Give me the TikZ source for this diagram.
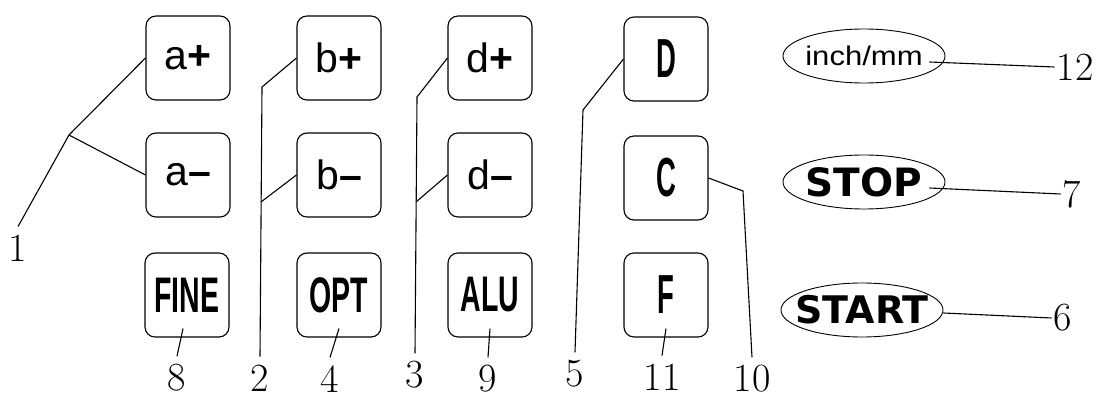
\documentclass[tikz,border=0pt]{standalone}
\usepackage{fontspec}
\usetikzlibrary{shapes.geometric}
\newfontfamily\keyfont{Liberation Sans}
\newfontfamily\ovalfont{DejaVu Sans}

\newcommand{\narrow}[1]{\scalebox{0.57}[1]{#1}}
\newcommand{\thin}[1]{\scalebox{0.5}[1]{#1}}

\begin{document}
\begin{tikzpicture}[x=1pt,y=-1pt,
    key/.style={draw,line width=1.1pt,rounded corners=10pt,minimum width=84pt,minimum height=84pt,inner sep=0pt,
        font=\keyfont\fontsize{41}{41}\selectfont},
    heavykey/.style={key,font=\keyfont\bfseries\fontsize{50}{50}\selectfont},
    letterkey/.style={key,font=\keyfont\bfseries\fontsize{55}{55}\selectfont},
    oval/.style={draw,ellipse,line width=0.9pt,minimum width=162pt,minimum height=54pt,inner xsep=-20pt,inner ysep=0pt},
    num/.style={inner xsep=2pt,inner ysep=8pt,font=\fontsize{40}{40}\selectfont},
    lead/.style={line width=1.1pt}]
    \useasboundingbox (0,0) rectangle (1104,398);

    % keys
    \node[key] (aplus) at (188,58) {a\textbf{+}};
    \node[key] (aminus) at (188,175) {a\textbf{–}};
    \node[heavykey] (fine) at (187,295) {\narrow{FINE}};
    \node[key] (bplus) at (339,58) {b\textbf{+}};
    \node[key] (bminus) at (339,175) {b\textbf{–}};
    \node[heavykey] (opt) at (339,295) {\narrow{OPT}};
    \node[key] (dplus) at (490,58) {d\textbf{+}};
    \node[key] (dminus) at (490,175) {d\textbf{–}};
    \node[heavykey] (alu) at (490,295) {\narrow{ALU}};
    \node[letterkey] (keyD) at (666,59) {\thin{D}};
    \node[letterkey] (keyC) at (666,178) {\thin{C}};
    \node[letterkey] (keyF) at (666,295) {\thin{F}};

    % ovals
    \node[oval,font=\keyfont\fontsize{27}{27}\selectfont] (inch) at (864,56) {\scalebox{1.15}[1]{inch/mm}};
    \node[oval,font=\ovalfont\bfseries\fontsize{39}{39}\selectfont] (stop) at (864,182) {STOP};
    \node[oval,font=\ovalfont\bfseries\fontsize{38}{38}\selectfont] (start) at (862,310) {START};

    % numbers
    \node[num] (l1) at (18,248) {1};
    \node[num] (l2) at (260,378) {2};
    \node[num] (l3) at (415,375) {3};
    \node[num] (l4) at (330,379) {4};
    \node[num] (l5) at (575,374) {5};
    \node[num] (l6) at (1063,318) {6};
    \node[num] (l7) at (1072,194) {7};
    \node[num] (l8) at (177,378) {8};
    \node[num] (l9) at (488,379) {9};
    \node[num] (l10) at (752,379) {10};
    \node[num] (l11) at (662,377) {11};
    \node[num] (l12) at (1075,67) {12};

    % leader bends
    \coordinate (j1) at (69,135);
    \coordinate (t2) at (262,87);
    \coordinate (m2) at (261,202);
    \coordinate (t3) at (417,97);
    \coordinate (m3) at (416,202);
    \coordinate (t5) at (583,110);
    \coordinate (t10) at (743,191);
    \coordinate (s8) at ([shift={(-4pt,9pt)}]fine.south);
    \coordinate (s4) at ([yshift=9pt]opt.south);
    \coordinate (s9) at ([yshift=9pt]alu.south);
    \coordinate (s11) at ([yshift=9pt]keyF.south);
    \coordinate (s12) at ([xshift=-16pt,yshift=-6pt]inch.east);
    \coordinate (s7) at ([xshift=-16pt,yshift=-6pt]stop.east);
    \coordinate (s6) at ([yshift=-3pt]start.east);

    % leaders
    \draw[lead] (l1.north) -- (j1) -- (aplus.west);
    \draw[lead] (j1) -- (aminus.west);
    \draw[lead] (l2.north) -- (t2) -- (bplus.west);
    \draw[lead] (m2) -- (bminus.west);
    \draw[lead] (l3.north) -- (t3) -- (dplus.west);
    \draw[lead] (m3) -- (dminus.west);
    \draw[lead] (l5.north) -- (t5) -- (keyD.west);
    \draw[lead] (keyC.east) -- (t10) -- (l10.north);
    \draw[lead] (s8) -- (l8.north);
    \draw[lead] (s4) -- (l4.north);
    \draw[lead] (s9) -- (l9.north);
    \draw[lead] (s11) -- (l11.north);
    \draw[lead] (s12) -- (l12.west);
    \draw[lead] (s7) -- (l7.west);
    \draw[lead] (s6) -- (l6.west);
\end{tikzpicture}
\end{document}
